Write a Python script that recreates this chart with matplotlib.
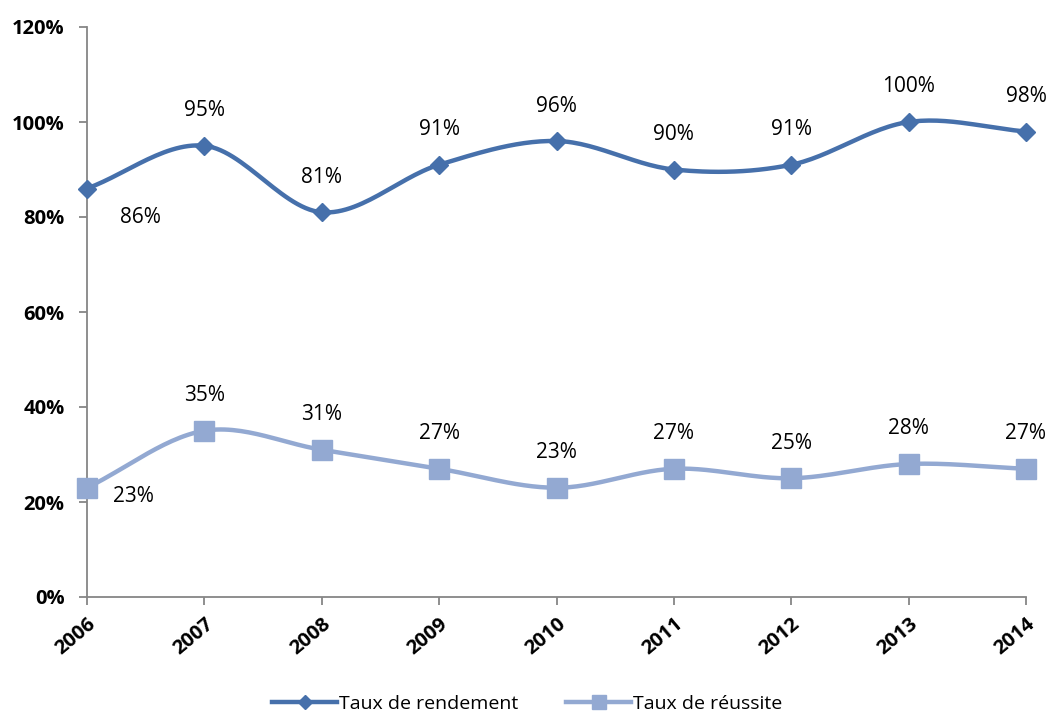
import matplotlib
matplotlib.use("Agg")
import matplotlib.pyplot as plt
import numpy as np

years = [2006, 2007, 2008, 2009, 2010, 2011, 2012, 2013, 2014]
rendement = [86, 95, 81, 91, 96, 90, 91, 100, 98]
reussite = [23, 35, 31, 27, 23, 27, 25, 28, 27]

DARK = "#4670AB"
LIGHT = "#93A9D2"

plt.rcParams["font.family"] = ["Open Sans", "DejaVu Sans"]


def smooth(x, y, n=30):
    # Catmull-Rom curve through the points, like Excel's smoothed lines
    x = np.asarray(x, float)
    y = np.asarray(y, float)
    px = np.concatenate([[2 * x[0] - x[1]], x, [2 * x[-1] - x[-2]]])
    py = np.concatenate([[2 * y[0] - y[1]], y, [2 * y[-1] - y[-2]]])
    xs, ys = [], []
    t = np.linspace(0, 1, n)
    for i in range(1, len(px) - 2):
        for p, out in ((px, xs), (py, ys)):
            p0, p1, p2, p3 = p[i - 1], p[i], p[i + 1], p[i + 2]
            out.extend(0.5 * ((2 * p1) + (-p0 + p2) * t
                              + (2 * p0 - 5 * p1 + 4 * p2 - p3) * t ** 2
                              + (-p0 + 3 * p1 - 3 * p2 + p3) * t ** 3))
    return np.array(xs), np.array(ys)


fig = plt.figure(figsize=(10.48, 7.16), dpi=100)
ax = fig.add_axes([87 / 1048, 1 - 597 / 716, (1026 - 87) / 1048, (597 - 27) / 716])

x = np.arange(len(years))
for vals, color, marker, ms, label, first_off in [
    (rendement, DARK, "D", 9, "Taux de rendement", (53, -29)),
    (reussite, LIGHT, "s", 14, "Taux de réussite", (46, -9)),
]:
    sx, sy = smooth(x, vals)
    ax.plot(sx, sy, color=color, lw=3.2, solid_capstyle="round", zorder=2)
    ax.plot(x, vals, linestyle="none", marker=marker, ms=ms, color=color, zorder=3)
    ax.plot([], [], color=color, lw=3.2, marker=marker, ms=ms * 0.75, label=label)
    for i, v in enumerate(vals):
        off = first_off if i == 0 else (0, 35)
        ax.annotate(f"{v}%", (i, v), xytext=off, textcoords="offset pixels",
                    ha="center", va="center", fontsize=15)

ax.set_xlim(0, len(years) - 1)
ax.set_ylim(0, 120)
ax.set_yticks(range(0, 121, 20))
ax.set_yticklabels([f"{v}%" for v in range(0, 121, 20)], fontsize=14.5, fontweight="bold")
ax.set_xticks(x)
ax.set_xticklabels([str(y) for y in years], fontsize=14.5, fontweight="bold",
                   rotation=40, ha="right", va="top", rotation_mode="anchor")
for s in ["top", "right"]:
    ax.spines[s].set_visible(False)
for s in ["left", "bottom"]:
    ax.spines[s].set_color("#868686")
    ax.spines[s].set_linewidth(1.3)
ax.spines["bottom"].set_zorder(1)
ax.tick_params(axis="both", direction="out", color="#868686", width=1.3, length=6)
ax.tick_params(axis="x", pad=6)
ax.tick_params(axis="y", pad=10)
for ln in ax.lines:
    ln.set_clip_on(False)

fig.legend(loc="center", bbox_to_anchor=(0.503, 1 - 704 / 716), ncol=2, frameon=False,
           fontsize=14, handlelength=3.3, columnspacing=2.5, handletextpad=0.1)

fig.savefig("out.png", dpi=100, facecolor="white")
